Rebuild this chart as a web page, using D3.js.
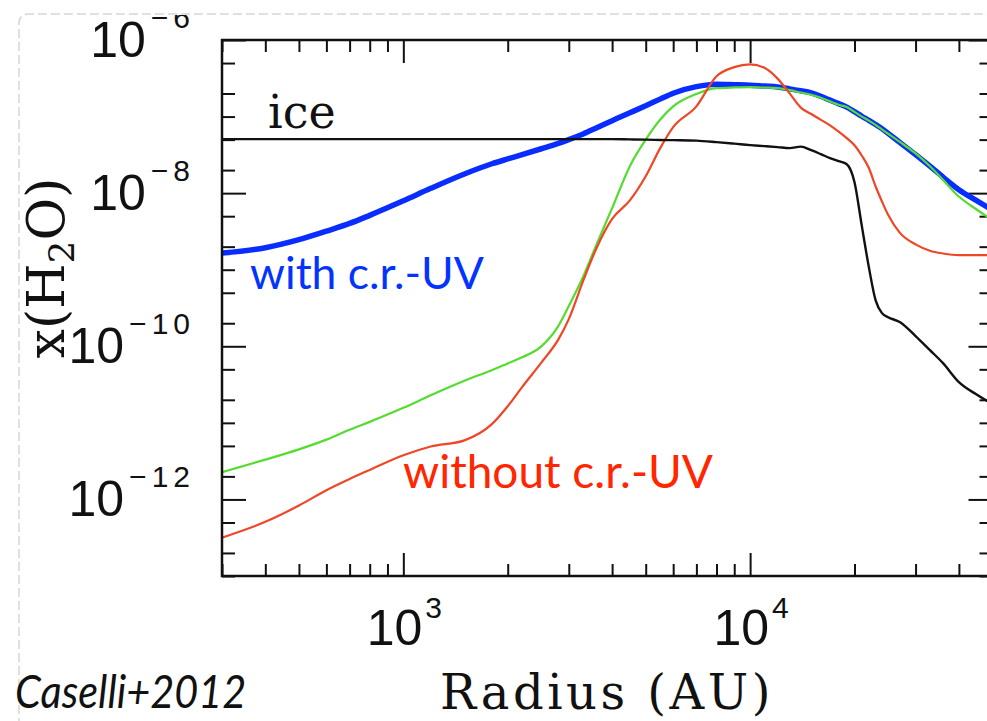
<!DOCTYPE html>
<html>
<head>
<meta charset="utf-8">
<script src="https://cdn.jsdelivr.net/npm/d3@7"></script>
<style>
  html, body { margin: 0; padding: 0; background: #fff; }
  svg { display: block; }
</style>
</head>
<body>
<svg id="chart" width="987" height="721"></svg>
<script>
// Radial grid (AU) shared by all profiles
const radiusAU = [300, 400, 500, 600, 700, 800, 1000, 1200, 1500, 1800, 2000, 2200, 2500, 2800,
  3000, 3300, 3600, 4000, 4500, 5000, 5500, 6000, 7000, 8000, 9000, 10000, 11000, 12000, 13000,
  14000, 15000, 16000, 17000, 18000, 19000, 20000, 21000, 22000, 23000, 24000, 25000, 27000,
  30000, 33000, 36000, 40000, 45000, 50000];

// Water ice abundance
const iceH2O = [5.07e-8, 5.07e-8, 5.07e-8, 5.07e-8, 5.07e-8, 5.07e-8, 5.07e-8, 5.07e-8, 5.07e-8,
  5.07e-8, 5.07e-8, 5.07e-8, 5.07e-8, 5.07e-8, 5.07e-8, 5.07e-8, 5.07e-8, 5.07e-8, 5.03e-8,
  5.00e-8, 4.95e-8, 4.92e-8, 4.85e-8, 4.64e-8, 4.43e-8, 4.24e-8, 4.11e-8, 3.99e-8, 3.87e-8,
  4.05e-8, 3.64e-8, 3.23e-8, 2.87e-8, 2.62e-8, 2.39e-8, 1.39e-8, 3.71e-9, 1.08e-9, 4.01e-10,
  2.71e-10, 2.40e-10, 2.07e-10, 1.36e-10, 8.91e-11, 6.02e-11, 3.40e-11, 2.34e-11, 1.76e-11];

// Gas-phase water, model with cosmic-ray induced UV
const withCrUV = [1.65e-9, 1.94e-9, 2.47e-9, 3.19e-9, 4.02e-9, 5.13e-9, 7.93e-9, 1.155e-8, 1.78e-8,
  2.42e-8, 2.80e-8, 3.18e-8, 3.80e-8, 4.47e-8, 5.00e-8, 5.93e-8, 7.10e-8, 8.85e-8, 1.12e-7,
  1.385e-7, 1.69e-7, 2.02e-7, 2.46e-7, 2.65e-7, 2.61e-7, 2.57e-7, 2.50e-7, 2.44e-7, 2.30e-7,
  2.17e-7, 2.04e-7, 1.84e-7, 1.64e-7, 1.475e-7, 1.33e-7, 1.16e-7, 1.01e-7, 8.93e-8, 7.89e-8,
  6.96e-8, 6.02e-8, 4.61e-8, 3.18e-8, 2.25e-8, 1.62e-8, 1.11e-8, 7.98e-9, 6.00e-9];

// Gas-phase water, intermediate model (green)
const greenModel = [2.27e-12, 3.31e-12, 4.51e-12, 6.04e-12, 8.13e-12, 1.03e-11, 1.57e-11, 2.29e-11,
  3.54e-11, 4.88e-11, 5.97e-11, 7.17e-11, 9.98e-11, 1.85e-10, 3.36e-10, 8.09e-10, 2.09e-9,
  6.37e-9, 2.25e-8, 5.00e-8, 9.09e-8, 1.36e-7, 1.975e-7, 2.35e-7, 2.40e-7, 2.42e-7, 2.39e-7,
  2.35e-7, 2.21e-7, 2.06e-7, 1.93e-7, 1.76e-7, 1.58e-7, 1.43e-7, 1.33e-7, 1.15e-7, 1.00e-7,
  8.85e-8, 7.78e-8, 6.79e-8, 5.97e-8, 4.68e-8, 3.30e-8, 2.24e-8, 1.49e-8, 9.03e-9, 6.11e-9, 4.44e-9];

// Gas-phase water, model without cosmic-ray induced UV
const withoutCrUV = [3.17e-13, 5.10e-13, 8.32e-13, 1.32e-12, 1.85e-12, 2.43e-12, 3.77e-12, 4.91e-12,
  5.91e-12, 9.62e-12, 1.65e-11, 2.93e-11, 6.13e-11, 1.23e-10, 2.26e-10, 7.13e-10, 1.88e-9,
  4.60e-9, 8.03e-9, 1.66e-8, 3.84e-8, 7.28e-8, 1.36e-7, 3.36e-7, 4.42e-7, 4.81e-7, 4.33e-7,
  3.13e-7, 2.01e-7, 1.31e-7, 1.08e-7, 9.06e-8, 7.68e-8, 6.36e-8, 5.23e-8, 4.22e-8, 3.08e-8,
  2.13e-8, 1.23e-8, 7.79e-9, 5.21e-9, 3.05e-9, 2.14e-9, 1.77e-9, 1.63e-9, 1.55e-9, 1.55e-9, 1.55e-9];

// Axis tick labels
const xLabelValues = [1e3, 1e4];
const xLabelExponents = ["3", "4"];
const yLabelValues = [1e-6, 1e-8, 1e-10, 1e-12];
const yLabelExponents = ["\u22126", "\u22128", "\u221210", "\u221212"];

const X0 = 222, X1 = 992.5, Y0 = 576, Y1 = 40;
const svg = d3.select("#chart");

// faint dashed slide frame
svg.append("path")
  .attr("d", `M19,740 L19,24 Q19,14 29,14 L1000,14`)
  .attr("fill", "none").attr("stroke", "#d6d6d6")
  .attr("stroke-width", 1.5).attr("stroke-dasharray", "9 4");

svg.append("defs").append("clipPath").attr("id", "page")
  .append("rect").attr("x", 0).attr("y", 15).attr("width", 987).attr("height", 721);
svg.select("defs").append("clipPath").attr("id", "plot")
  .append("rect").attr("x", X0).attr("y", Y1).attr("width", X1 - X0).attr("height", Y0 - Y1);

const root = svg.append("g").attr("clip-path", "url(#page)");

const x = d3.scaleLog().domain([300, 5e4]).range([X0, X1]);
const y = d3.scaleLog().domain([1e-13, 1e-6]).range([Y0, Y1]);

// tick positions: 1..9 per x decade, 1/2/5 per y decade
const xTicks = [];
[100, 1000, 10000].forEach(dec => { for (let m = 1; m <= 9; m++) { const v = m * dec; if (v >= 300 && v <= 5e4) xTicks.push(v); } });
const yTicks = [];
for (let e = -13; e <= -6; e++) [1, 2, 5].forEach(m => { const v = m * Math.pow(10, e); if (v >= 1e-13 * 0.999 && v <= 1e-6 * 1.001) yTicks.push(v); });

const isMajorX = v => Math.abs(Math.log10(v) - Math.round(Math.log10(v))) < 1e-6;
const isMajorY = v => { const l = Math.log10(v); return Math.abs(l - Math.round(l)) < 1e-6 && Math.round(l) % 2 === 0; };

function styleAxis(g, lenFn, attr) {
  g.select(".domain").remove();
  g.selectAll(".tick text").remove();
  g.selectAll(".tick line").attr(attr, lenFn).attr("stroke", "#111").attr("stroke-width", 2);
}

root.append("g").attr("transform", `translate(0,${Y0})`)
  .call(d3.axisBottom(x).tickValues(xTicks).tickFormat(""))
  .call(g => styleAxis(g, d => isMajorX(d) ? -23 : -12, "y2"));
root.append("g").attr("transform", `translate(0,${Y1})`)
  .call(d3.axisTop(x).tickValues(xTicks).tickFormat(""))
  .call(g => styleAxis(g, d => isMajorX(d) ? 23 : 12, "y2"));
root.append("g").attr("transform", `translate(${X0},0)`)
  .call(d3.axisLeft(y).tickValues(yTicks).tickFormat(""))
  .call(g => styleAxis(g, d => isMajorY(d) ? 24 : 13, "x2"));
root.append("g").attr("transform", `translate(${X1},0)`)
  .call(d3.axisRight(y).tickValues(yTicks).tickFormat(""))
  .call(g => styleAxis(g, d => isMajorY(d) ? -24 : -13, "x2"));

// curves
const plot = root.append("g").attr("clip-path", "url(#plot)");
const line = d3.line().x(d => x(d[0])).y(d => y(d[1])).curve(d3.curveMonotoneX);
const series = [
  { values: withCrUV, color: "#0a2dff", width: 5.5 },
  { values: greenModel, color: "#55dc30", width: 2.2 },
  { values: withoutCrUV, color: "#ef4726", width: 2.2 },
  { values: iceH2O, color: "#111", width: 2.4 }
];
series.forEach(s => {
  plot.append("path")
    .datum(radiusAU.map((r, i) => [r, s.values[i]]))
    .attr("d", line).attr("fill", "none")
    .attr("stroke", s.color).attr("stroke-width", s.width)
    .attr("stroke-linejoin", "round").attr("stroke-linecap", "round");
});

// frame
root.append("rect").attr("x", X0).attr("y", Y1).attr("width", X1 - X0).attr("height", Y0 - Y1)
  .attr("fill", "none").attr("stroke", "#111").attr("stroke-width", 2.5);

// tick labels
const sans = "'Liberation Sans', Arial, Helvetica, sans-serif";
xLabelValues.forEach((v, i) => {
  const t = root.append("text").attr("x", x(v) + 1).attr("y", 645)
    .attr("text-anchor", "middle").attr("font-family", sans).attr("font-size", 50).attr("fill", "#111");
  t.append("tspan").text("10");
  t.append("tspan").attr("dx", 3).attr("dy", -27).attr("font-size", 30).text(xLabelExponents[i]);
});
yLabelValues.forEach((v, i) => {
  const t = root.append("text").attr("x", 195).attr("y", y(v) + 17)
    .attr("text-anchor", "end").attr("font-family", sans).attr("font-size", 50).attr("fill", "#111");
  t.append("tspan").text("10");
  t.append("tspan").attr("dx", 5).attr("dy", -29).attr("font-size", 30)
    .attr("letter-spacing", 5).text(yLabelExponents[i]);
});

// axis titles
const serif = "'DejaVu Serif', 'Liberation Serif', serif";
root.append("text").attr("x", 607).attr("y", 709).attr("text-anchor", "middle")
  .attr("font-family", serif).attr("font-size", 48).attr("letter-spacing", 3.5)
  .attr("fill", "#111").text("Radius (AU)");
const yt = root.append("text").attr("transform", "translate(64,268) rotate(-90)")
  .attr("text-anchor", "middle").attr("font-family", serif).attr("font-size", 52).attr("fill", "#111");
yt.append("tspan").text("x(H");
yt.append("tspan").attr("dy", 10).attr("font-size", 36).text("2");
yt.append("tspan").attr("dy", -10).text("O)");

// annotations
root.append("text").attr("x", 268).attr("y", 128).attr("font-family", serif)
  .attr("font-size", 46).attr("fill", "#111").text("ice");
const hum = "Lato, 'Open Sans', sans-serif";
root.append("text").attr("x", 250).attr("y", 289).attr("font-family", hum)
  .attr("font-size", 44.5).attr("fill", "#0433ff").text("with c.r.-UV");
root.append("text").attr("x", 403).attr("y", 488).attr("font-family", hum)
  .attr("font-size", 46).attr("fill", "#ff2600").text("without c.r.-UV");
root.append("text").attr("transform", "translate(15,708) scale(0.9,1)").attr("font-family", hum)
  .attr("font-style", "italic").attr("font-size", 46).attr("fill", "#111").text("Caselli+2012");
</script>
</body>
</html>
